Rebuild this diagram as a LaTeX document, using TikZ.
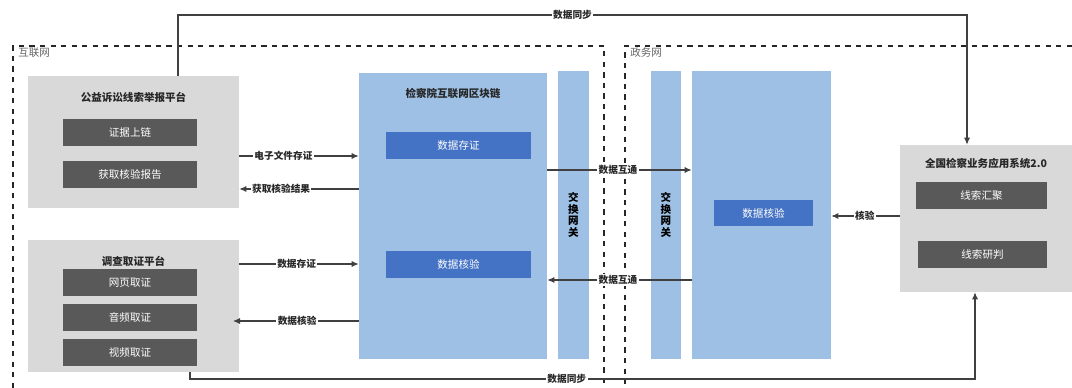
\documentclass[tikz,border=0pt]{standalone}
\usepackage{fontspec}
\setmainfont{Noto Sans CJK SC}
\usetikzlibrary{arrows.meta}
\definecolor{platgray}{HTML}{D9D9D9}
\definecolor{funcgray}{HTML}{595959}
\definecolor{chainblue}{HTML}{9DC0E4}
\definecolor{coreblue}{HTML}{4472C4}
\definecolor{linegray}{HTML}{404040}
\tikzset{
  zone/.style={draw=black!85, dashed, line width=0.6pt},
  zonelabel/.style={text=black!60, font=\fontsize{6}{7}\selectfont, anchor=west, inner sep=0pt},
  plat/.style={fill=platgray, inner sep=0pt},
  title/.style={font=\fontsize{6}{7}\selectfont\bfseries, text=black!85, inner sep=0pt},
  func/.style={fill=funcgray, text=white, font=\fontsize{6}{7}\selectfont, inner sep=0pt},
  chain/.style={fill=chainblue, inner sep=0pt},
  core/.style={fill=coreblue, text=white, font=\fontsize{6}{7}\selectfont, inner sep=0pt},
  gate/.style={fill=chainblue, inner sep=0pt, align=center, font=\fontsize{6}{6.6}\selectfont\bfseries},
  flow/.style={draw=linegray, line width=0.6pt, -{Latex[length=4pt,width=3.5pt]}},
  tag/.style={fill=white, inner sep=0.8pt, text=black!85, font=\fontsize{5.5}{6.5}\selectfont\bfseries}
}
\begin{document}
\begin{tikzpicture}[x=0.02cm, y=-0.02cm]
    \useasboundingbox (0,0) rectangle (1072,388);

    % Network zones
    \draw[zone] (13,388) -- (13,46) -- (604,46) -- (604,388);
    \draw[zone] (1072,46) -- (625,46) -- (625,388);
    \node[zonelabel] (inet) at (18,53) {互联网};
    \node[zonelabel] (govnet) at (630,53) {政务网};

    % Public interest litigation platform
    \node[plat, minimum width=4.22cm, minimum height=2.64cm] (gong) at (133.5,142) {};
    \node[title] (gongT) at (133.5,97) {公益诉讼线索举报平台};
    \node[func, minimum width=2.68cm, minimum height=0.54cm] (zjsl) at (130,132.5) {证据上链};
    \node[func, minimum width=2.68cm, minimum height=0.54cm] (hqbg) at (130,174.5) {获取核验报告};

    % Evidence collection platform
    \node[plat, minimum width=4.22cm, minimum height=2.64cm] (diao) at (133.5,306) {};
    \node[title] (diaoT) at (133.5,261) {调查取证平台};
    \node[func, minimum width=2.68cm, minimum height=0.54cm] (wy) at (130,282.5) {网页取证};
    \node[func, minimum width=2.68cm, minimum height=0.54cm] (yp) at (130,317.5) {音频取证};
    \node[func, minimum width=2.68cm, minimum height=0.54cm] (sp) at (130,352.5) {视频取证};

    % Blockchain
    \node[chain, minimum width=3.76cm, minimum height=5.72cm] (chainbox) at (453,216) {};
    \node[title] (chainT) at (453,93) {检察院互联网区块链};
    \node[core, minimum width=2.9cm, minimum height=0.54cm] (cz) at (458.5,145.5) {数据存证};
    \node[core, minimum width=2.9cm, minimum height=0.54cm] (hy) at (458.5,264.5) {数据核验};

    % Gateways
    \node[gate, minimum width=0.62cm, minimum height=5.76cm] (gw1) at (573.5,215) {交\\换\\网\\关};
    \node[gate, minimum width=0.6cm, minimum height=5.76cm] (gw2) at (666,215) {交\\换\\网\\关};

    % Government side
    \node[chain, minimum width=2.78cm, minimum height=5.76cm] (govbox) at (761.5,215) {};
    \node[core, minimum width=1.98cm, minimum height=0.54cm] (hy2) at (763.5,213) {数据核验};

    % National system
    \node[plat, minimum width=3.44cm, minimum height=2.94cm] (sys) at (986,218.5) {};
    \node[title] (sysT) at (986,163) {全国检察业务应用系统2.0};
    \node[func, minimum width=2.62cm, minimum height=0.54cm] (xshj) at (981.5,195.5) {线索汇聚};
    \node[func, minimum width=2.58cm, minimum height=0.54cm] (xsyp) at (982.5,254.5) {线索研判};

    % Connectors
    \draw[flow] (gong.east |- 0,156) -- node[tag, pos=0.37] {电子文件存证} (chainbox.west |- 0,156);
    \draw[flow] (chainbox.west |- 0,189) -- node[tag, pos=0.65] {获取核验结果} (gong.east |- 0,189);
    \draw[flow] (diao.east |- 0,264) -- node[tag, pos=0.48] {数据存证} (chainbox.west |- 0,264);
    \draw[flow] (chainbox.west |- 0,321) -- node[tag, pos=0.49] {数据核验} (233,321);
    \draw[flow] (chainbox.east |- 0,170) -- node[tag, pos=0.49] {数据互通} (govbox.west |- 0,170);
    \draw[flow] (govbox.west |- 0,280) -- node[tag, pos=0.51] {数据互通} (chainbox.east |- 0,280);
    \draw[flow] (sys.west |- 0,216) -- node[tag, pos=0.51] {核验} (govbox.east |- 0,216);

    % Data sync
    \draw[flow] (178,0 |- gong.north) -- (178,15) -- node[tag, pos=0.5] {数据同步} (967,15) -- (967,0 |- sys.north);
    \draw[flow] (190,0 |- diao.south) -- (190,379) -- node[tag, pos=0.48] {数据同步} (975,379) -- (975,0 |- sys.south);
\end{tikzpicture}
\end{document}
